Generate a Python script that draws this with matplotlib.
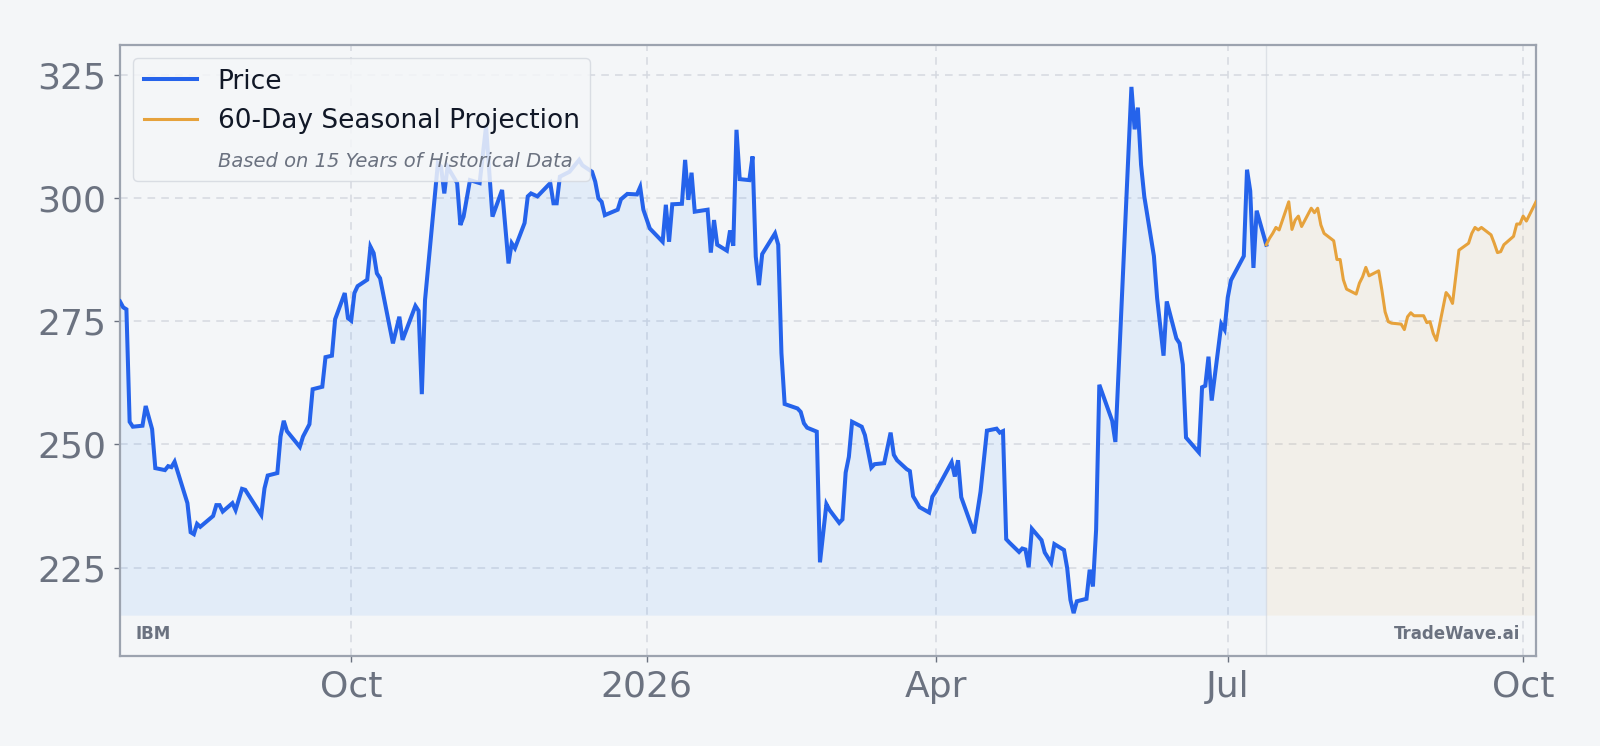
import numpy as np
import pandas as pd
import matplotlib
matplotlib.use("Agg")
import matplotlib.pyplot as plt
import matplotlib.dates as mdates
from matplotlib.lines import Line2D

# Precio observado (fechas de cada vértice de la línea)
precio_fechas = [
    "2025-07-21", "2025-07-22", "2025-07-23", "2025-07-24", "2025-07-25",
    "2025-07-28", "2025-07-29", "2025-07-31", "2025-08-01",
    "2025-08-04", "2025-08-05", "2025-08-06", "2025-08-07",
    "2025-08-11", "2025-08-12", "2025-08-13", "2025-08-14", "2025-08-15",
    "2025-08-19", "2025-08-20", "2025-08-21", "2025-08-22",
    "2025-08-25", "2025-08-26", "2025-08-28", "2025-08-29",
    "2025-09-03", "2025-09-04", "2025-09-05",
    "2025-09-08", "2025-09-09", "2025-09-10", "2025-09-11",
    "2025-09-15", "2025-09-16", "2025-09-18", "2025-09-19",
    "2025-09-22", "2025-09-23", "2025-09-25", "2025-09-26",
    "2025-09-29", "2025-09-30", "2025-10-01", "2025-10-02", "2025-10-03",
    "2025-10-06", "2025-10-07", "2025-10-08", "2025-10-09", "2025-10-10",
    "2025-10-14", "2025-10-16", "2025-10-17",
    "2025-10-21", "2025-10-22", "2025-10-23", "2025-10-24",
    "2025-10-28", "2025-10-29", "2025-10-30", "2025-10-31",
    "2025-11-03", "2025-11-04", "2025-11-05", "2025-11-07",
    "2025-11-10", "2025-11-12", "2025-11-14",
    "2025-11-17", "2025-11-19", "2025-11-20", "2025-11-21",
    "2025-11-24", "2025-11-25", "2025-11-26", "2025-11-28",
    "2025-12-02", "2025-12-03", "2025-12-04", "2025-12-05",
    "2025-12-08", "2025-12-11", "2025-12-12",
    "2025-12-15", "2025-12-16", "2025-12-17", "2025-12-18", "2025-12-19",
    "2025-12-23", "2025-12-24", "2025-12-26",
    "2025-12-29", "2025-12-30", "2025-12-31", "2026-01-02",
    "2026-01-06", "2026-01-07", "2026-01-08", "2026-01-09",
    "2026-01-12", "2026-01-13", "2026-01-14", "2026-01-15", "2026-01-16",
    "2026-01-20", "2026-01-21", "2026-01-22", "2026-01-23",
    "2026-01-26", "2026-01-27", "2026-01-28", "2026-01-29", "2026-01-30",
    "2026-02-02", "2026-02-03", "2026-02-04", "2026-02-05", "2026-02-06",
    "2026-02-10", "2026-02-11", "2026-02-12", "2026-02-13",
    "2026-02-17", "2026-02-18", "2026-02-19", "2026-02-20",
    "2026-02-23", "2026-02-24", "2026-02-26", "2026-02-27",
    "2026-03-02", "2026-03-03", "2026-03-04", "2026-03-05", "2026-03-06",
    "2026-03-09", "2026-03-10", "2026-03-12", "2026-03-13",
    "2026-03-16", "2026-03-18", "2026-03-19", "2026-03-20",
    "2026-03-23", "2026-03-24", "2026-03-25", "2026-03-27",
    "2026-03-30", "2026-03-31", "2026-04-01",
    "2026-04-06", "2026-04-07", "2026-04-08", "2026-04-09",
    "2026-04-13", "2026-04-15", "2026-04-17",
    "2026-04-20", "2026-04-21", "2026-04-22", "2026-04-23", "2026-04-24",
    "2026-04-27", "2026-04-28", "2026-04-29", "2026-04-30", "2026-05-01",
    "2026-05-04", "2026-05-05", "2026-05-07", "2026-05-08",
    "2026-05-11", "2026-05-12", "2026-05-13", "2026-05-14", "2026-05-15",
    "2026-05-18", "2026-05-19", "2026-05-20", "2026-05-21", "2026-05-22",
    "2026-05-26", "2026-05-27",
    "2026-06-01", "2026-06-02", "2026-06-03", "2026-06-04", "2026-06-05",
    "2026-06-08", "2026-06-09", "2026-06-11", "2026-06-12",
    "2026-06-15", "2026-06-16", "2026-06-17", "2026-06-18",
    "2026-06-22", "2026-06-23", "2026-06-24", "2026-06-25", "2026-06-26",
    "2026-06-29", "2026-06-30", "2026-07-01", "2026-07-02",
    "2026-07-06", "2026-07-07", "2026-07-08", "2026-07-09", "2026-07-10",
    "2026-07-13",
]
precio_valores = [
    279.0, 277.8, 277.4, 254.6, 253.6,
    253.8, 257.8, 253.1, 245.2,
    244.8, 245.6, 245.4, 246.5,
    238.1, 232.2, 231.8, 233.9, 233.3,
    235.5, 237.7, 237.7, 236.4,
    238.1, 236.7, 241.0, 240.8,
    235.7, 241.1, 243.7,
    244.2, 251.6, 254.8, 252.7,
    249.5, 251.6, 254.1, 261.2,
    261.7, 267.7, 268.0, 275.4,
    280.7, 275.6, 275.1, 280.7, 282.1,
    283.4, 290.1, 288.8, 284.7, 283.7,
    270.5, 275.9, 271.2,
    278.1, 277.1, 260.2, 279.3,
    307.0, 306.3, 300.9, 306.3,
    303.0, 294.5, 296.2, 303.6,
    303.0, 314.5, 296.2,
    301.6, 286.7, 290.8, 289.8,
    294.9, 300.3, 300.9, 300.3,
    303.0, 298.9, 298.9, 304.3,
    305.3, 307.7, 306.6,
    305.3, 303.3, 299.9, 299.2, 296.5,
    297.6, 299.7, 300.8,
    300.7, 302.2, 297.6, 293.8,
    291.1, 298.6, 291.1, 298.7,
    298.8, 307.7, 299.6, 305.1, 297.2,
    297.6, 288.9, 295.5, 290.5,
    289.3, 293.4, 290.3, 313.8, 303.8,
    303.6, 308.4, 288.1, 282.3, 288.6,
    292.8, 290.5, 268.5, 258.2,
    257.3, 256.6, 254.3, 253.4,
    252.6, 226.1, 237.9, 236.7,
    234.1, 234.8, 244.3, 247.5, 254.6,
    253.6, 251.9, 245.3, 246.0,
    246.2, 252.4, 247.9, 246.8,
    245.0, 244.6, 239.5, 237.3,
    236.2, 239.4, 240.4,
    246.4, 243.5, 246.8, 239.3,
    232.0, 240.4, 252.8,
    253.2, 252.4, 252.7, 230.8, 230.1,
    228.2, 228.9, 228.7, 225.1, 232.9,
    230.6, 228.1, 226.0, 229.8,
    228.6, 224.9, 218.5, 215.8, 218.2,
    218.7, 224.6, 221.2, 232.7, 262.1,
    254.8, 250.5,
    322.5, 313.9, 318.3, 306.7, 300.3,
    288.2, 279.7, 268.0, 279.0,
    271.5, 270.5, 266.2, 251.4,
    248.4, 261.6, 261.9, 267.8, 258.9,
    274.4, 273.3, 279.8, 283.3,
    288.2, 305.7, 301.4, 285.8, 297.4,
    290.5,
]

# Proyección estacional: 60 días hábiles tras el último precio
proy_inicio = "2026-07-13"
proy_valores = [
    290.5,
    291.8, 292.8, 294.0, 293.5,
    299.2, 293.6, 295.5, 296.3, 294.2,
    297.9, 297.0, 297.9, 294.5, 292.8,
    291.3, 287.5, 287.5, 283.4, 281.5,
    280.5, 282.7, 284.0, 285.9, 284.2,
    285.2, 281.3, 276.9, 274.9, 274.6,
    274.4, 273.3, 275.9, 276.7, 276.1,
    276.1, 274.7, 274.9, 272.5, 271.1,
    280.8, 280.0, 278.6, 284.0, 289.4,
    290.8, 292.8, 294.0, 293.5, 294.0,
    292.5, 290.8, 288.9, 289.1, 290.5,
    292.2, 294.7, 294.7, 296.3, 295.3,
    299.2,
]

y_ticks = [225, 250, 275, 300, 325]
ticker = "IBM"
marca = "TradeWave.ai"

BG = "#f4f6f8"
AZUL = "#2563eb"
AZUL_RELLENO = "#60a5fa"
NARANJA = "#e6a23c"
GRIS = "#6b7280"

precio = pd.Series(precio_valores, index=pd.to_datetime(precio_fechas))
proy = pd.Series(proy_valores,
                 index=pd.bdate_range(proy_inicio, periods=len(proy_valores)))
base = min(precio.min(), proy.min()) - 0.4

fig = plt.figure(figsize=(16, 7.46), dpi=100, facecolor=BG)
ax = fig.add_axes([0.075, 0.1206, 0.885, 0.8191])
ax.set_facecolor(BG)

ax.fill_between(precio.index, precio.values, base, color=AZUL_RELLENO,
                alpha=0.12, lw=0)
ax.fill_between(proy.index, proy.values, base, color=NARANJA, alpha=0.08, lw=0)
ax.axvline(precio.index[-1], color="#cfd4dc", lw=1, alpha=0.6, zorder=1)
ax.plot(precio.index, precio.values, color=AZUL, lw=2.9, zorder=3,
        solid_joinstyle="miter")
ax.plot(proy.index, proy.values, color=NARANJA, lw=2.2, zorder=3)

ax.set_xlim(precio.index[0], proy.index[-1])
ax.set_ylim(207.1, 331.0)
ax.set_yticks(y_ticks)

ax.xaxis.set_major_locator(mdates.MonthLocator(bymonth=[1, 4, 7, 10]))
ax.xaxis.set_major_formatter(plt.FuncFormatter(
    lambda v, _: (mdates.num2date(v).strftime("%Y")
                  if mdates.num2date(v).month == 1
                  else mdates.num2date(v).strftime("%b"))))

ax.grid(True, ls=(0, (5, 4)), color="#d5d9e0", lw=1.1, zorder=0)
ax.set_axisbelow(True)
ax.tick_params(labelsize=26, colors=GRIS, length=4, width=1, pad=6)
for s in ax.spines.values():
    s.set_color("#9ca3af")
    s.set_linewidth(1.6)

handles = [Line2D([], [], color=AZUL, lw=2.9),
           Line2D([], [], color=NARANJA, lw=2.2),
           Line2D([], [], color="none")]
labels = ["Price", "60-Day Seasonal Projection",
          "Based on 15 Years of Historical Data"]
leg = ax.legend(handles, labels, loc="upper left", fontsize=19,
                handlelength=2.0, labelspacing=0.52, borderaxespad=0.5,
                facecolor=BG, edgecolor="#d5d9e0",
                framealpha=0.85, fancybox=True)
for t in leg.get_texts()[:2]:
    t.set_color("#111827")
sub = leg.get_texts()[2]
sub.set_fontsize(14)
sub.set_style("italic")
sub.set_color(GRIS)

ax.text(0.011, 0.036, ticker, transform=ax.transAxes, fontsize=12,
        fontweight="bold", color=GRIS, va="center", ha="left")
ax.text(0.989, 0.036, marca, transform=ax.transAxes, fontsize=12,
        fontweight="bold", color=GRIS, va="center", ha="right")

plt.savefig("out.png", dpi=100, facecolor=BG)
plt.close()
